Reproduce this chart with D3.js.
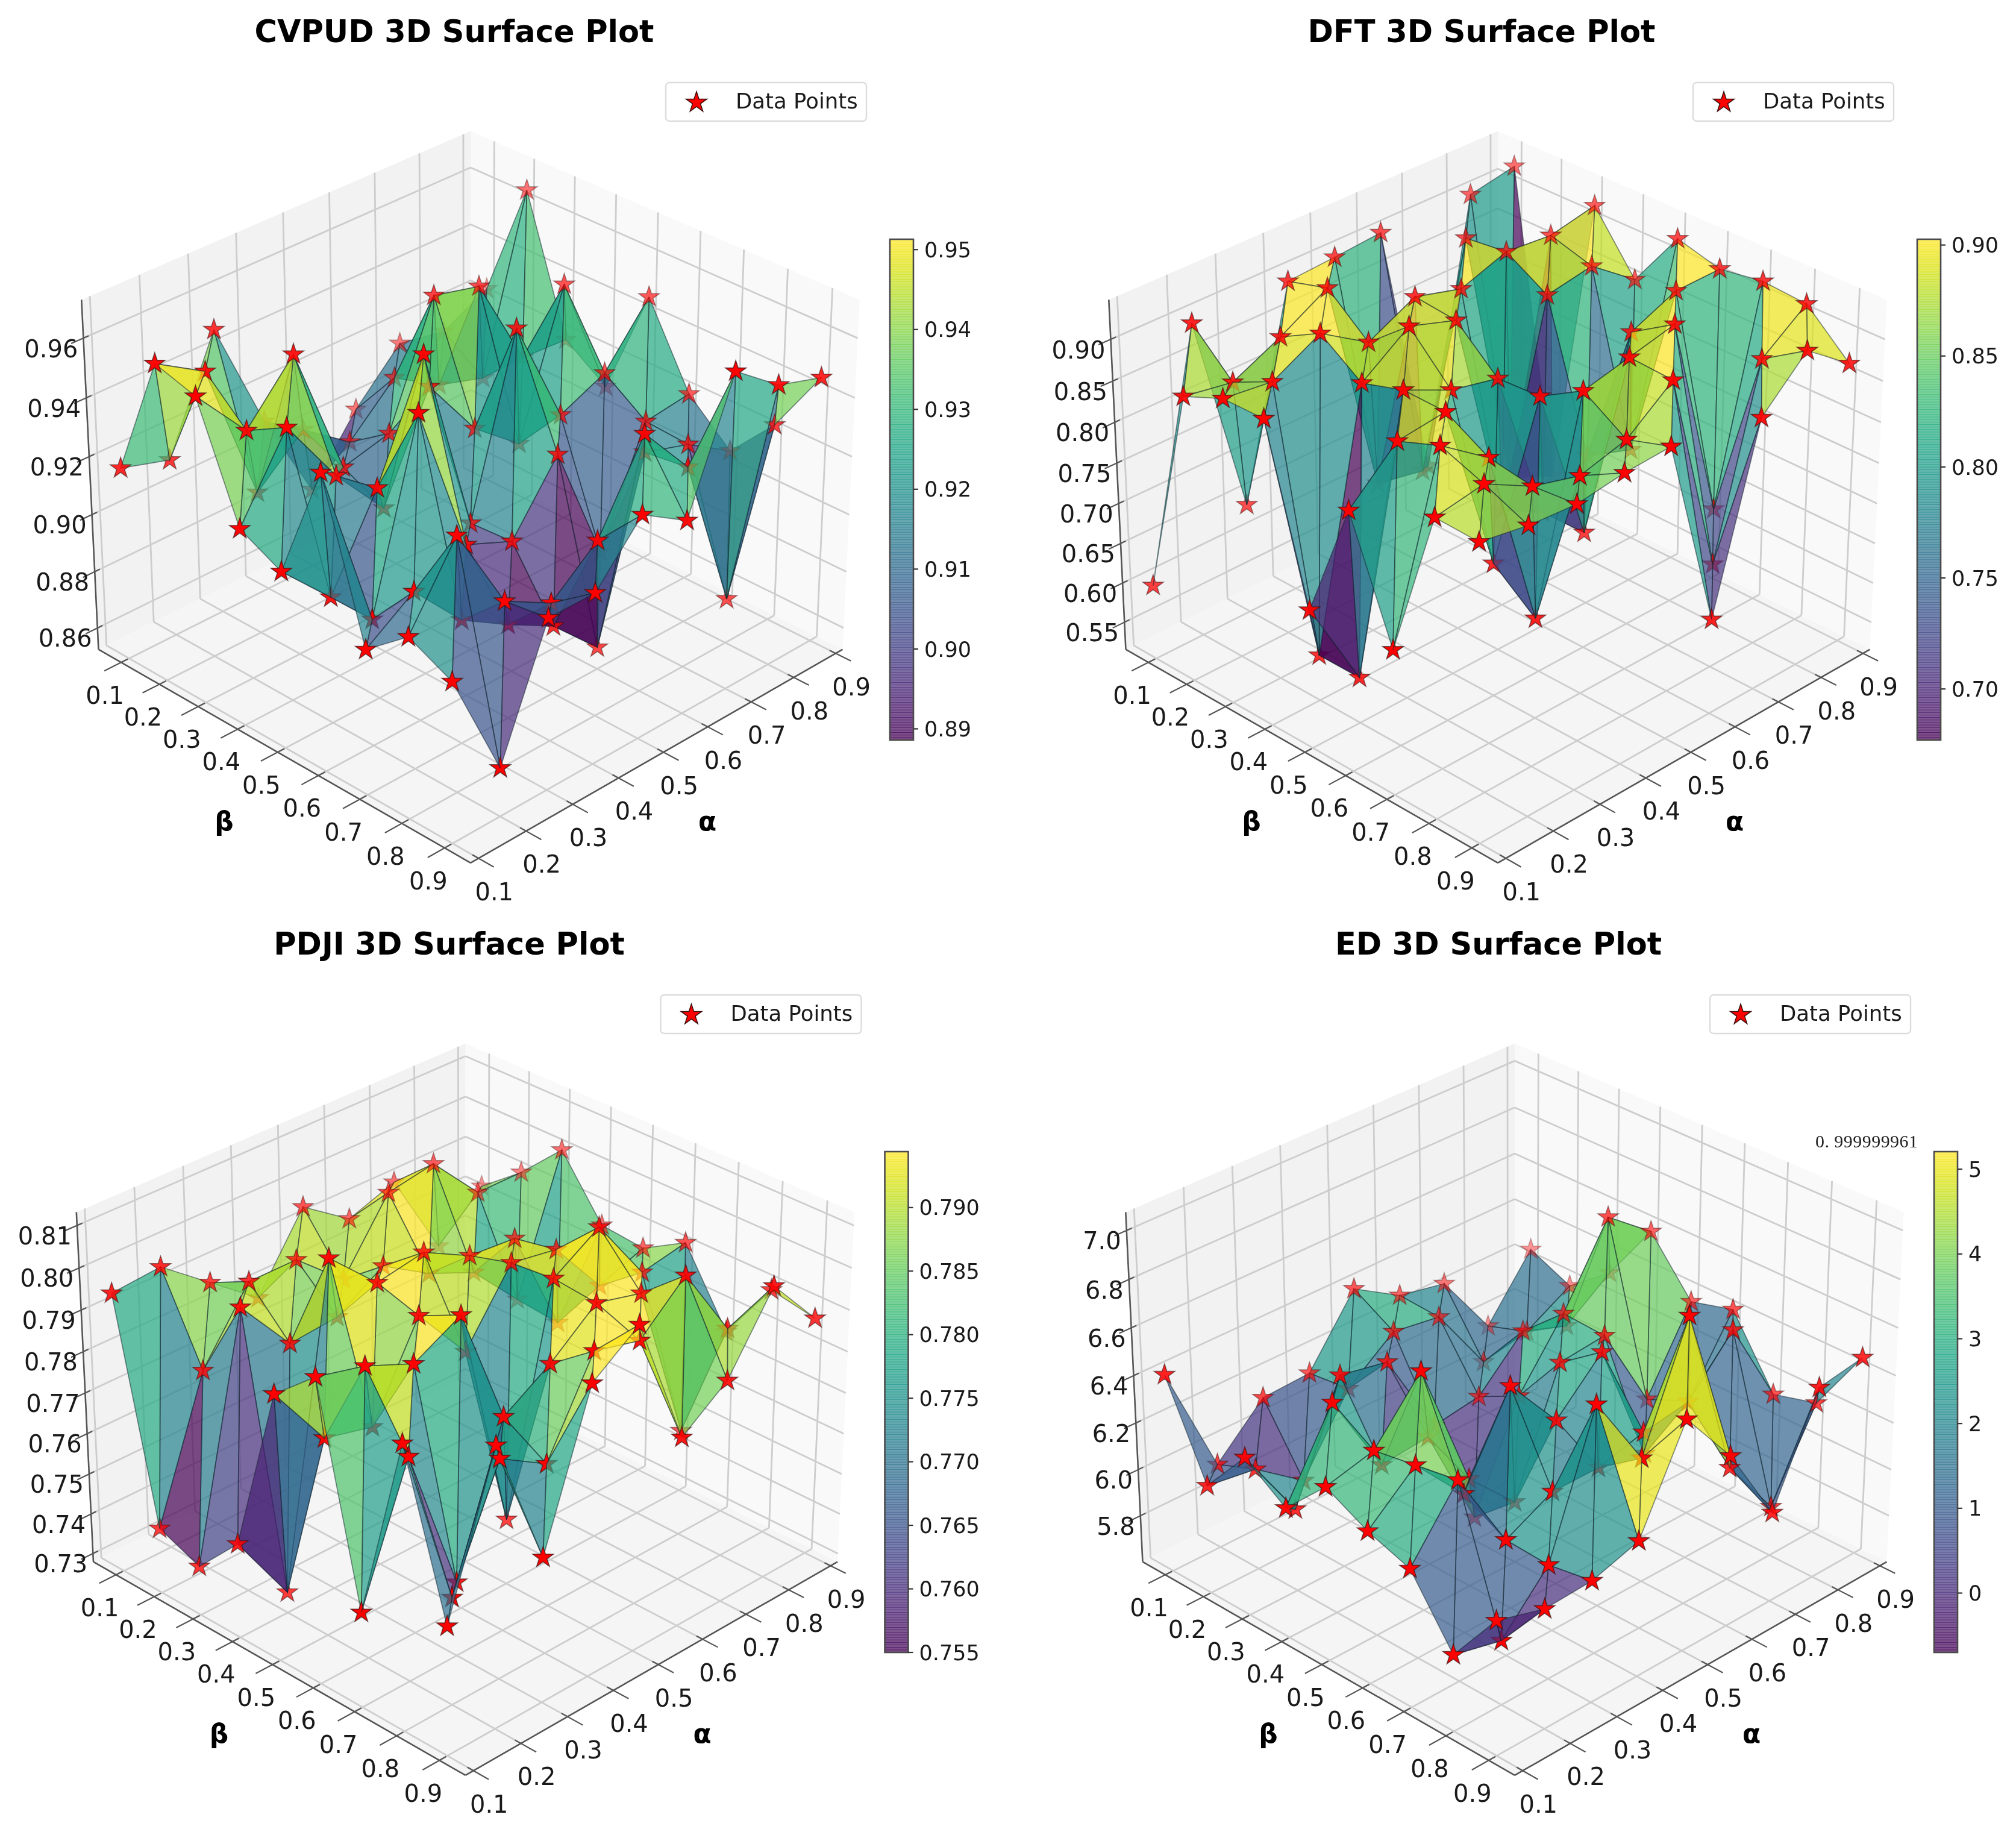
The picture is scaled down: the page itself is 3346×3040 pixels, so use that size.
<!DOCTYPE html><html><head><meta charset="utf-8"><script src="https://cdn.jsdelivr.net/npm/d3@7"></script>
<style>body{margin:0;background:#fff}svg{display:block;filter:blur(.7px)}text{font-family:"DejaVu Sans";fill:#1a1a1a}</style></head><body><svg id="chart" width="3346" height="3040"></svg><script>
const gridTicks=[.1,.2,.3,.4,.5,.6,.7,.8,.9];
const cvpudZ=[
[.919,.914,.951,.912,.880,.901,.917,.914,.922],
[.961,.951,.902,.916,.904,.919,.909,.904,.963],
[.957,.938,.956,.910,.914,.954,.950,.918,.917],
[.920,.946,.922,.903,.937,.915,.902,.950,.907],
[.913,.896,.925,.962,.897,.956,.919,.926,.945],
[.953,.896,.957,.905,.898,.920,.878,.916,.918],
[.902,.913,.895,.885,.876,.860,.920,.915,.905],
[.914,.939,.909,.900,.913,.941,.922,.868,.921],
[.907,.869,.911,.911,.929,.919,.961,.949,.944]];
const dftZ=[
[.608,.903,.652,.902,.906,.911,.589,.909,.920],
[.866,.856,.884,.917,.648,.636,.902,.570,.545],
[.888,.881,.912,.875,.904,.888,.908,.903,.915],
[.889,.572,.877,.918,.899,.637,.878,.888,.846],
[.686,.572,.893,.866,.853,.660,.703,.683,.919],
[.832,.885,.892,.681,.856,.661,.880,.904,.905],
[.693,.905,.863,.640,.887,.900,.913,.659,.913],
[.876,.886,.855,.839,.854,.897,.645,.869,.909],
[.874,.864,.860,.868,.871,.633,.850,.903,.861]];
const pdjiZ=[
[.796,.797,.788,.779,.796,.788,.792,.771,.781],
[.744,.777,.793,.793,.783,.799,.801,.789,.789],
[.740,.797,.783,.784,.791,.784,.779,.767,.799],
[.751,.733,.808,.797,.799,.793,.792,.766,.785],
[.792,.776,.773,.794,.780,.796,.794,.780,.784],
[.801,.798,.793,.799,.744,.797,.804,.788,.790],
[.751,.782,.746,.780,.787,.796,.793,.754,.773],
[.796,.754,.781,.774,.795,.792,.802,.784,.788],
[.759,.795,.763,.798,.806,.774,.782,.799,.786]];
const edZ=[
[6.44,5.96,6.15,6.16,6.43,6.31,6.27,5.99,6.24],
[6.06,6.03,5.88,6.18,6.33,6.30,6.01,6.05,6.16],
[6.27,5.95,6.42,6.38,6.01,6.04,6.23,6.16,6.30],
[6.15,6.49,6.13,6.15,5.70,6.13,6.39,6.71,6.56],
[6.33,6.38,6.61,6.06,5.86,6.36,6.38,6.01,6.34],
[6.24,6.41,6.19,6.54,6.30,6.49,5.96,6.09,6.39],
[6.18,6.44,6.09,6.19,6.19,6.24,6.27,6.48,6.11],
[5.92,5.87,6.08,6.64,6.32,6.81,6.08,5.81,6.16],
[6.16,6.10,6.11,6.17,6.57,6.32,5.98,6.41,6.44]];
const edFacetA=[
[1.0,.2,.8,2.5,3,2,1.3,1.5],
[1,2,1.8,1.5,1.4,1.5,2,2.2],
[2.3,2.4,1.5,.3,.1,.2,3,3.9],
[3.2,3,3.7,4,1.8,2.5,3.8,3.9],
[3.2,3.8,3.7,1.8,2.2,2.6,1,1.3],
[3,2.7,1.5,2.3,2,2,1.5,1.5],
[1,1,2.4,2,2.5,4.5,1.2,1.2],
[0,.1,2.2,5,5,4.5,1,1]];
const edFacetB=[
[.8,.1,1,2.5,3,1.6,1.3,1.4],
[1.8,2.5,2.8,1,1.4,2,2,3.8],
[2.4,2.5,.4,.2,.2,3,3.8,4],
[3.2,4,3.8,1.8,1.8,3,3.8,3.8],
[3.3,4,1.8,1.8,2.8,2.6,1,1.3],
[2.9,1,2.4,1.8,2.6,2,1.3,2.3],
[1,1,2.4,2,4.5,4.5,1.2,1.2],
[-.2,.1,2.3,5,5,1.2,.9,2]];
const cvpudZTicks=[.86,.88,.90,.92,.94,.96], cvpudBarTicks=[.89,.90,.91,.92,.93,.94,.95];
const dftZTicks=[.55,.60,.65,.70,.75,.80,.85,.90], dftBarTicks=[.70,.75,.80,.85,.90];
const pdjiZTicks=[.73,.74,.75,.76,.77,.78,.79,.80,.81], pdjiBarTicks=[.755,.76,.765,.77,.775,.78,.785,.79];
const edZTicks=[5.8,6.0,6.2,6.4,6.6,6.8,7.0], edBarTicks=[0,1,2,3,4,5];
const panels=[
{title:"CVPUD 3D Surface Plot",z:cvpudZ,zLim:[.8523,.9727],zTicks:cvpudZTicks,zFmt:".2f",bar:[.8886,.9513],barTicks:cvpudBarTicks,barFmt:".2f",cx:781,y0:794},
{title:"DFT 3D Surface Plot",z:dftZ,zLim:[.515,.947],zTicks:dftZTicks,zFmt:".2f",bar:[.677,.9026],barTicks:dftBarTicks,barFmt:".2f",cx:2486,y0:794},
{title:"PDJI 3D Surface Plot",z:pdjiZ,zLim:[.7279,.8131],zTicks:pdjiZTicks,zFmt:".2f",bar:[.755,.7944],barTicks:pdjiBarTicks,barFmt:".3f",cx:772.5,y0:2308},
{title:"ED 3D Surface Plot",z:edZ,facetA:edFacetA,facetB:edFacetB,zLim:[5.598,7.074],zTicks:edZTicks,zFmt:".1f",bar:[-.70,5.207],barTicks:edBarTicks,barFmt:"d",cx:2514,y0:2308,note:"0. 999999961"}];
const S=7500,DIST=10,ca=Math.SQRT1_2,se=.5,ce=Math.sqrt(3)/2;
const WX=.5952,WZ=.4464;
const betaS=d3.scaleLinear().domain([.04,.96]).range([-WX,WX]);
const alphaS=d3.scaleLinear().domain([.08333,.91667]).range([-WX,WX]);
const svg=d3.select("#chart");
const starPath=r=>d3.symbol().type(d3.symbolStar).size(r*r/.89)();
panels.forEach(p=>{
 const g=svg.append("g");
 const zS=d3.scaleLinear().domain(p.zLim).range([-WZ,WZ]);
 const depth=(a,b,c)=>ce*ca*(a-b)+se*c;
 const pr=(a,b,c)=>{const w=DIST-depth(a,b,c);return [p.cx+S*ca*(a+b)/w,p.y0-S*(se*ca*(b-a)+ce*c)/w];};
 const P=(be,al,z)=>pr(betaS(be),alphaS(al),zS(z));
 const [bL,bH]=betaS.domain(),[aL,aH]=alphaS.domain(),[zL,zH]=p.zLim;
 const poly=(pts,fill)=>g.append("polygon").attr("points",pts.map(q=>q.join(",")).join(" ")).attr("fill",fill);
 poly([P(bL,aL,zL),P(bL,aH,zL),P(bL,aH,zH),P(bL,aL,zH)],"#f2f2f2");
 poly([P(bL,aH,zL),P(bH,aH,zL),P(bH,aH,zH),P(bL,aH,zH)],"#f9f9f9");
 poly([P(bL,aL,zL),P(bH,aL,zL),P(bH,aH,zL),P(bL,aH,zL)],"#f5f5f5");
 const line=(q1,q2,st,w)=>g.append("line").attr("x1",q1[0]).attr("y1",q1[1]).attr("x2",q2[0]).attr("y2",q2[1]).attr("stroke",st).attr("stroke-width",w);
 const gc="#cdcdcd",gw=2.8;
 gridTicks.forEach(t=>{
  line(P(bL,t,zL),P(bH,t,zL),gc,gw);line(P(t,aL,zL),P(t,aH,zL),gc,gw);
  line(P(bL,t,zL),P(bL,t,zH),gc,gw);line(P(t,aH,zL),P(t,aH,zH),gc,gw);
 });
 p.zTicks.forEach(t=>{line(P(bL,aL,t),P(bL,aH,t),gc,gw);line(P(bL,aH,t),P(bH,aH,t),gc,gw);});
 const sp="#555",sw=2.6,tw=2.2;
 line(P(bL,aL,zL),P(bH,aL,zL),sp,sw);line(P(bH,aL,zL),P(bH,aH,zL),sp,sw);line(P(bL,aL,zL),P(bL,aL,zH),sp,sw);
 const da=.035,db=.035;
 const lab=(x,y,s,anc,size)=>g.append("text").attr("x",x).attr("y",y).attr("dy",".36em").attr("text-anchor",anc).attr("font-size",size).text(s);
 gridTicks.forEach(t=>{
  const q=P(t,aL,zL);line(P(t,aL-da,zL),P(t,aL+da*.4,zL),sp,tw);lab(q[0]-27,q[1]+54,d3.format(".1f")(t),"middle",40);
  const r=P(bH,t,zL);line(P(bH+db,t,zL),P(bH-db*.4,t,zL),sp,tw);lab(r[0]+26,r[1]+55,d3.format(".1f")(t),"middle",40);
 });
 p.zTicks.forEach(t=>{const q=P(bL,aL,t);line(P(bL,aL-da*.7,t),P(bL,aL+da*.3,t),sp,tw);lab(q[0]-9,q[1]+17,d3.format(p.zFmt)(t),"end",40);});
 // surface
 const vS=d3.scaleLinear().domain(p.bar).range([0,1]).clamp(true);
 const items=[];
 const deep=(i,j)=>depth(betaS(gridTicks[i]),alphaS(gridTicks[j]),zS(p.z[i][j]));
 const V=(i,j)=>P(gridTicks[i],gridTicks[j],p.z[i][j]);
 for(let i=0;i<8;i++)for(let j=0;j<8;j++){
  [[[i,j],[i+1,j],[i,j+1]],[[i+1,j],[i+1,j+1],[i,j+1]]].forEach((t,k)=>{
   const v=p.facetA?(k?p.facetB:p.facetA)[i][j]:d3.mean(t,n=>p.z[n[0]][n[1]]);
   items.push({d:d3.mean(t,n=>deep(n[0],n[1])),tri:t,v});
  });
 }
 const ds=[];for(let i=0;i<9;i++)for(let j=0;j<9;j++){const d=deep(i,j);ds.push(d);items.push({d:d+.1,star:[i,j],rd:d});}
 const dE=d3.extent(ds);
 items.sort((x,y)=>x.d-y.d);
 items.forEach(o=>{
  if(o.tri){g.append("polygon").attr("points",o.tri.map(n=>V(n[0],n[1]).join(",")).join(" ")).attr("fill",d3.interpolateViridis(vS(o.v))).attr("fill-opacity",.7).attr("stroke","#10202a").attr("stroke-opacity",.5).attr("stroke-width",1.7);}
  else{const q=V(o.star[0],o.star[1]);const t=(o.rd-dE[0])/(dE[1]-dE[0]);const a=Math.min(1,.4+.8*t);
   g.append("path").attr("d",starPath(18)).attr("transform",`translate(${q[0]},${q[1]})`).attr("fill","#ff0000").attr("fill-opacity",a).attr("stroke","#401010").attr("stroke-opacity",a*.7).attr("stroke-width",1.6);}
 });
 // title
 g.append("text").attr("x",p.cx-27).attr("y",p.y0-724).attr("text-anchor","middle").attr("font-size",51).attr("font-weight","bold").attr("style","fill:#000").text(p.title);
 // axis names
 g.append("text").attr("x",p.cx-409).attr("y",p.y0+568).attr("dy",".36em").attr("text-anchor","middle").attr("font-size",44).attr("font-weight","bold").attr("style","fill:#000").text("β");
 g.append("text").attr("x",p.cx+393).attr("y",p.y0+568).attr("dy",".36em").attr("text-anchor","middle").attr("font-size",44).attr("font-weight","bold").attr("style","fill:#000").text("α");
 // legend
 g.append("rect").attr("x",p.cx+324).attr("y",p.y0-657).attr("width",333).attr("height",64).attr("rx",6).attr("fill","#fff").attr("stroke","#dcdcdc").attr("stroke-width",2.4);
 g.append("path").attr("d",starPath(18)).attr("transform",`translate(${p.cx+375},${p.y0-624})`).attr("fill","#f00").attr("stroke","#401010").attr("stroke-width",1.6);
 g.append("text").attr("x",p.cx+440).attr("y",p.y0-627).attr("dy",".36em").attr("font-size",35.5).text("Data Points");
 // colorbar
 const bx=p.cx+696,bw=39,by0=p.y0-397,by1=p.y0+434;
 const bS=d3.scaleLinear().domain(p.bar).range([by1,by0]);
 d3.range(0,200).forEach(k=>{g.append("rect").attr("x",bx).attr("width",bw).attr("y",by1-(k+1)*(by1-by0)/200-.5).attr("height",(by1-by0)/200+1).attr("fill",d3.interpolateViridis((k+.5)/200)).attr("fill-opacity",.7);});
 g.append("rect").attr("x",bx).attr("y",by0).attr("width",bw).attr("height",by1-by0).attr("fill","none").attr("stroke","#4a4a4a").attr("stroke-width",2.6);
 p.barTicks.forEach(t=>{line([bx+bw,bS(t)],[bx+bw+8,bS(t)],"#333",2.2);lab(bx+bw+18,bS(t),d3.format(p.barFmt)(t),"start",35);});
 if(p.note)g.append("text").attr("x",p.cx+499).attr("y",p.y0-415).attr("dy",".36em").attr("font-size",30).attr("textLength",170).attr("style",'fill:#222;font-family:"Liberation Serif"').text(p.note);
});
</script></body></html>
